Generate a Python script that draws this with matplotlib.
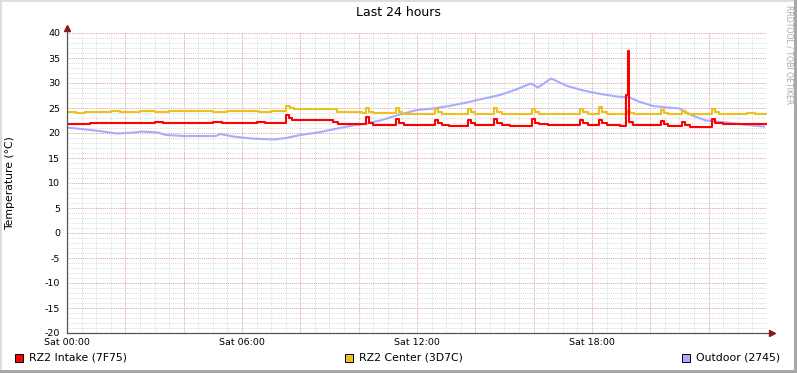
import matplotlib
matplotlib.use("Agg")
import matplotlib.pyplot as plt
from matplotlib.patches import Rectangle
import numpy as np

# ---------------- data (hours since Sat 00:00, temperature in degC) ----------------
intake_t = [0.0, 0.8, 1.1, 1.5, 3.0, 3.3, 5.0, 5.3, 6.5, 6.8, 7.5, 7.6, 7.7, 9.12, 9.3,
            10.25, 10.35, 10.5, 11.28, 11.38, 11.55, 12.62, 12.72, 12.85, 13.1,
            13.75, 13.85, 14.0, 14.64, 14.74, 14.9, 15.2, 15.94, 16.04, 16.2, 16.5,
            17.59, 17.69, 17.85, 18.24, 18.34, 18.5, 18.95, 19.16, 19.22, 19.28, 19.4,
            20.36, 20.46, 20.6, 21.08, 21.18, 21.35, 21.6, 22.11, 22.21, 22.5, 24.0]
intake_v = [21.9, 22.1, 22.0, 22.1, 22.2, 22.1, 22.2, 22.1, 22.2, 22.1, 23.7, 23.1, 22.6, 22.3, 21.9,
            23.3, 22.0, 21.7, 22.8, 22.0, 21.6, 22.7, 22.0, 21.6, 21.5,
            22.6, 22.0, 21.6, 22.8, 22.1, 21.7, 21.4, 22.8, 22.1, 21.8, 21.6,
            22.7, 22.0, 21.6, 22.6, 22.0, 21.6, 21.5, 27.7, 36.4, 22.3, 21.6,
            22.4, 21.8, 21.4, 22.3, 21.6, 21.3, 21.2, 22.9, 22.0, 21.8, 21.8]

center_t = [0.0, 0.3, 0.6, 1.0, 1.5, 1.8, 2.5, 3.0, 3.5, 5.0, 5.5, 6.6, 7.0, 7.5, 7.65, 7.8,
            9.26, 10.1, 10.25, 10.35, 10.5, 11.28, 11.38, 11.5, 12.62, 12.72, 12.85,
            13.75, 13.85, 14.0, 14.64, 14.74, 14.9, 15.94, 16.04, 16.2, 17.59, 17.69, 17.85,
            18.24, 18.34, 18.5, 19.2, 19.3, 19.45, 20.36, 20.46, 20.6, 21.08, 21.18, 21.3,
            22.11, 22.21, 22.35, 23.3, 23.6, 24.0]
center_v = [24.2, 24.1, 24.3, 24.2, 24.4, 24.3, 24.4, 24.3, 24.4, 24.3, 24.4, 24.3, 24.4, 25.5, 25.1, 24.9,
            24.3, 24.1, 25.0, 24.3, 24.0, 25.0, 24.2, 23.9, 24.8, 24.2, 23.9,
            24.9, 24.2, 23.9, 25.1, 24.3, 23.9, 24.8, 24.2, 23.9, 24.8, 24.2, 23.9,
            25.2, 24.3, 23.9, 24.5, 24.1, 23.9, 24.7, 24.1, 23.9, 24.5, 24.1, 23.9,
            24.8, 24.2, 23.9, 24.1, 23.9, 23.9]

outdoor_t = [0.0, 0.3, 0.8, 1.1, 1.7, 2.3, 2.6, 3.1, 3.4, 4.0, 5.1, 5.25, 5.7, 6.3, 7.1, 7.5,
             8.0, 8.6, 9.1, 9.7, 10.3, 10.8, 11.35, 12.0, 12.55, 13.1, 13.7, 14.3, 14.85,
             15.4, 15.9, 16.15, 16.6, 17.15, 17.7, 18.3, 18.85, 19.3, 19.6, 20.1, 20.6,
             21.0, 21.4, 21.9, 22.6, 23.3, 23.9]
outdoor_v = [21.1, 20.9, 20.6, 20.4, 19.9, 20.1, 20.3, 20.1, 19.6, 19.4, 19.4, 19.8, 19.3, 18.9, 18.7, 19.0,
             19.6, 20.1, 20.7, 21.4, 21.9, 22.6, 23.6, 24.6, 24.9, 25.4, 26.1, 26.9, 27.6,
             28.7, 29.9, 29.1, 30.9, 29.4, 28.5, 27.8, 27.3, 27.1, 26.3, 25.4, 25.1,
             24.9, 23.6, 22.5, 22.1, 21.6, 21.3]

x_tick_pos = [0, 6, 12, 18]
x_tick_labels = ["Sat 00:00", "Sat 06:00", "Sat 12:00", "Sat 18:00"]
y_ticks = list(range(-20, 41, 5))

series_names = ["RZ2 Intake (7F75)", "RZ2 Center (3D7C)", "Outdoor (2745)"]
series_colors = ["#FF0000", "#EBC11F", "#AAAAFF"]

# ---------------- figure ----------------
W, H = 797, 373
fig = plt.figure(figsize=(W / 100, H / 100), dpi=100)
fig.patch.set_facecolor("white")

def fx(px):
    return px / W

def fy(py):
    return 1 - py / H

# 3D-ish frame
fig.patches.append(Rectangle((0, 0), 1, 1, transform=fig.transFigure, fill=False,
                             edgecolor="#DCDCDC", lw=2.0))
fig.patches.append(Rectangle((fx(794), 0), fx(3), 1, transform=fig.transFigure,
                             facecolor="#A8A8A8", edgecolor="none"))
fig.patches.append(Rectangle((0, 0), 1, 3 / H, transform=fig.transFigure,
                             facecolor="#A8A8A8", edgecolor="none"))

L, R, T, B = 67, 767, 33, 333
ax = fig.add_axes([fx(L), fy(B), (R - L) / W, (B - T) / H])
ax.set_xlim(0, 24)
ax.set_ylim(-20, 40)
ax.set_facecolor("white")
for s in ax.spines.values():
    s.set_visible(False)

dot = (0, (1, 1.2))
lw_px = 0.72
# minor grid
for xv in np.arange(0.5, 24, 0.5):
    ax.axvline(xv, color="#D9D9D9", lw=lw_px, ls=dot, zorder=1)
for yv in range(-19, 41):
    ax.axhline(yv, color="#D9D9D9", lw=lw_px, ls=dot, zorder=1)
# major grid
for xv in range(2, 24, 2):
    ax.axvline(xv, color="#EEA6A6", lw=lw_px, ls=dot, zorder=2)
for yv in y_ticks[1:]:
    ax.axhline(yv, color="#EEA6A6", lw=lw_px, ls=dot, zorder=2)

# series
ax.step(intake_t, intake_v, where="post", color=series_colors[0], lw=1.5, zorder=6)
ax.step(center_t, center_v, where="post", color=series_colors[1], lw=1.5, zorder=5)
ax.plot(outdoor_t, outdoor_v, color=series_colors[2], lw=1.5, zorder=4)

# axes lines with arrows
ax.plot([0, 0], [0, 1 + 5 / 300], transform=ax.transAxes, color="#555555", lw=0.9,
        clip_on=False, zorder=7)
ax.plot([0, 1 + 5 / 700], [0, 0], transform=ax.transAxes, color="#555555", lw=0.9,
        clip_on=False, zorder=7)
ax.plot([0], [1 + 5 / 300], transform=ax.transAxes, marker="^", ms=4, color="#8B1A1A",
        clip_on=False, zorder=8)
ax.plot([1 + 5 / 700], [0], transform=ax.transAxes, marker=">", ms=4, color="#8B1A1A",
        clip_on=False, zorder=8)

ax.set_xticks(x_tick_pos)
ax.set_xticklabels(x_tick_labels)
ax.set_yticks(y_ticks)
ax.set_yticklabels([str(v) for v in y_ticks])
ax.tick_params(axis="x", length=0, pad=3.5, labelsize=6.8, colors="black")
ax.tick_params(axis="y", length=0, pad=5, labelsize=6.8, colors="black")

fig.text(fx(10), fy(183), "Temperature (°C)", rotation=90, ha="center", va="center",
         fontsize=7.8)

fig.text(fx(398), fy(13), "Last 24 hours", ha="center", va="center", fontsize=9)
fig.text(fx(789), fy(5), "RRDTOOL / TOBI OETIKER", rotation=270, ha="center", va="top",
         fontsize=5.6, color="#A8A8A8")

# legend
legend_x = [15, 345, 682]
for xpx, name, col in zip(legend_x, series_names, series_colors):
    fig.patches.append(Rectangle((fx(xpx), fy(362)), 8 / W, 8 / H, transform=fig.transFigure,
                                 facecolor=col, edgecolor="black", lw=0.7))
    fig.text(fx(xpx + 14), fy(358), name, ha="left", va="center", fontsize=7.8)

fig.savefig("out.png", dpi=100, facecolor="white")
